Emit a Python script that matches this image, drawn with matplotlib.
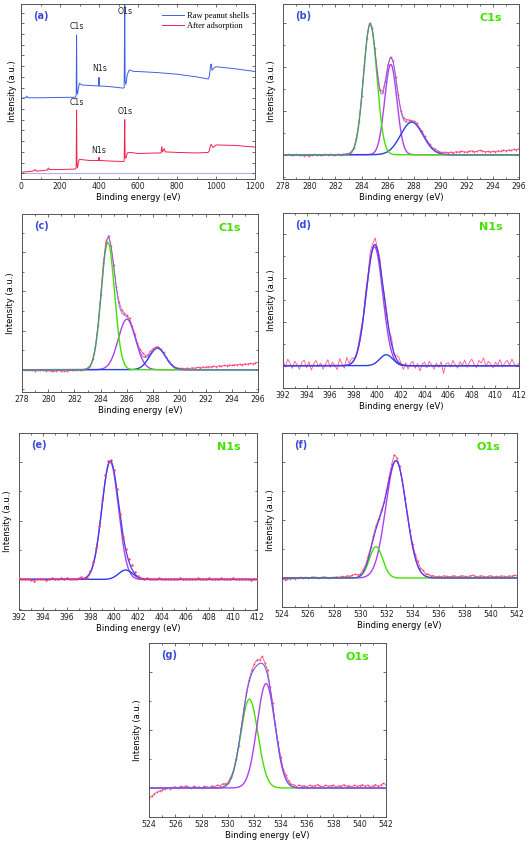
import numpy as np
import matplotlib
matplotlib.use("Agg")
import matplotlib.pyplot as plt
from matplotlib.ticker import MultipleLocator

# ---------------- data ----------------
# (a) survey spectra
survey_blue_x = [0, 25, 30, 35, 100, 200, 280, 283, 285, 287, 290, 295, 300, 310, 350, 398, 400, 402, 450,
                 525, 529, 532, 534, 538, 545, 555, 580, 600, 700, 800, 900, 960, 965, 972, 975, 980, 990,
                 1000, 1100, 1200]
survey_blue_y = [7.0, 7.05, 7.2, 7.05, 7.05, 7.08, 7.1, 7.3, 12.9, 7.6, 7.4, 8.0, 8.4, 8.25, 8.2, 8.15, 8.95,
                 8.15, 8.1, 7.95, 8.0, 15.7, 8.6, 8.3, 9.2, 9.65, 9.5, 9.5, 9.4, 9.25, 9.0, 8.8, 9.0, 10.0,
                 10.2, 9.6, 9.85, 9.95, 9.75, 9.5]
survey_red_x = [0, 60, 73, 78, 135, 140, 145, 200, 280, 283, 285, 287, 290, 295, 300, 350, 398, 400, 402, 450,
                525, 529, 532, 534, 538, 545, 560, 600, 700, 718, 722, 726, 735, 740, 800, 900, 960, 965, 972,
                975, 985, 1000, 1100, 1200]
survey_red_y = [0.1, 0.2, 0.35, 0.2, 0.3, 0.5, 0.35, 0.35, 0.4, 0.6, 5.9, 0.9, 0.5, 1.1, 1.3, 1.2, 1.2, 1.5,
                1.2, 1.15, 1.1, 1.15, 5.0, 1.5, 1.4, 1.9, 1.95, 1.85, 1.9, 1.9, 2.5, 2.0, 2.3, 2.0, 1.95, 1.9,
                1.95, 2.1, 2.6, 2.7, 2.4, 2.65, 2.6, 2.45]
survey_labels = ["C1s", "N1s", "O1s"]
survey_blue_label_pos = [(286, 13.7), (403, 9.8), (535, 15.1)]
survey_red_label_pos = [(286, 6.6), (400, 2.1), (535, 5.8)]
legend_labels = ["Raw peanut shells", "After adsorption"]

# Fitted components: (center eV, height, FWHM eV)
b_green = (284.65, 2.96, 1.2)
b_purple = (286.22, 2.05, 1.1)
b_blue = (287.82, 0.74, 2.0)

c_green = (284.55, 3.25, 1.2)
c_purple = (286.0, 1.29, 1.55)
c_blue = (288.33, 0.55, 1.45)

d_purple = (399.75, 2.72, 1.65)
d_blue = (400.75, 0.25, 1.3)

e_purple = (399.66, 2.0, 1.65)
e_blue = (400.96, 0.16, 1.4)

f_purple = (532.73, 2.02, 1.85)
f_green = (531.2, 0.54, 1.2)

g_green = (531.62, 1.53, 1.55)
g_purple = (532.89, 1.8, 1.6)

# Residuals of raw data relative to the fit
b_resid = [0.01, 0.00, 0.01, -0.01, 0.00, 0.01, 0.00, -0.01, -0.02, -0.01,
           -0.02, 0.00, 0.01, 0.00, -0.01, 0.00, 0.01, 0.00, 0.01, 0.00,
           0.00, 0.01, 0.00, 0.01, 0.02, 0.01, 0.02, 0.00, 0.03, 0.02,
           0.01, 0.03, 0.02, 0.04, 0.03, 0.01, 0.03, 0.02, 0.04, 0.03,
           0.05, 0.02, 0.04, 0.03, 0.05, 0.03, 0.04, 0.06, 0.05, 0.03,
           0.04, 0.05, 0.03, 0.05, 0.04, 0.03, 0.04, 0.03, 0.05, 0.04,
           0.03, 0.04, 0.05, 0.04, 0.06, 0.05, 0.07, 0.06, 0.08, 0.07,
           0.06, 0.08, 0.09, 0.07, 0.08, 0.10, 0.09, 0.07, 0.08, 0.06,
           0.08, 0.07, 0.09, 0.08, 0.10, 0.09, 0.11, 0.10, 0.12, 0.11,
           0.14]
c_resid = [0.00, -0.01, -0.02, -0.01, -0.02, -0.03, -0.02, -0.01, -0.02, -0.03,
           -0.02, -0.03, -0.04, -0.03, -0.02, -0.03, -0.04, -0.03, -0.02, -0.01,
           -0.02, -0.01, 0.00, -0.01, 0.00, 0.01, 0.00, 0.02, 0.03, 0.05,
           0.08, 0.12, 0.10, 0.06, 0.04, 0.06, 0.05, 0.08, 0.07, 0.05,
           0.04, 0.06, 0.03, 0.05, 0.04, 0.06, 0.08, 0.05, 0.04, 0.06,
           0.05, 0.03, 0.04, 0.02, 0.03, 0.02, 0.01, 0.02, 0.01, 0.02,
           0.02, 0.03, 0.02, 0.04, 0.03, 0.05, 0.04, 0.06, 0.05, 0.07,
           0.06, 0.08, 0.07, 0.09, 0.08, 0.10, 0.09, 0.11, 0.10, 0.12,
           0.11, 0.13, 0.12, 0.14, 0.13, 0.15, 0.14, 0.16, 0.15, 0.18,
           0.19]
d_resid = [0.12, -0.03, 0.15, 0.05, -0.06, 0.10, 0.02, -0.08, 0.08, 0.13,
           -0.05, 0.09, -0.10, 0.04, 0.12, -0.02, 0.06, -0.08, 0.03, 0.14,
           -0.04, 0.08, 0.00, -0.09, 0.16, 0.05, -0.06, 0.18, 0.03, 0.10,
           0.06, -0.04, 0.08, 0.12, 0.05, 0.15, 0.08, 0.20, 0.10, 0.15,
           0.05, 0.12, -0.04, 0.08, 0.10, 0.02, 0.14, -0.05, 0.08, 0.12,
           0.02, -0.10, 0.06, -0.08, 0.04, 0.10, -0.06, 0.05, -0.12, 0.03,
           0.08, -0.05, 0.10, 0.02, -0.08, 0.06, -0.04, 0.09, -0.18, 0.04,
           0.07, -0.03, 0.12, 0.02, -0.06, 0.09, 0.01, 0.13, -0.04, 0.08,
           0.15, 0.03, -0.05, 0.12, 0.06, 0.18, -0.02, 0.10, 0.04, -0.05,
           0.08, 0.02, 0.14, -0.03, 0.06, 0.12, 0.01, 0.15, 0.04, -0.02,
           0.06]
e_resid = [0.02, 0.01, 0.00, 0.01, -0.01, -0.02, 0.00, 0.01, 0.00, -0.01,
           0.01, 0.02, 0.00, 0.01, 0.02, 0.01, 0.02, 0.01, 0.00, 0.01,
           0.02, 0.03, 0.01, -0.03, 0.02, 0.04, 0.03, 0.05, 0.06, 0.08,
           0.05, 0.02, 0.04, 0.05, 0.02, -0.02, 0.03, 0.06, 0.08, 0.04,
           0.02, 0.01, 0.00, 0.02, 0.01, 0.00, 0.01, 0.02, 0.01, 0.00,
           0.01, 0.00, 0.01, 0.00, 0.02, 0.00, 0.01, 0.00, 0.01, 0.00,
           0.02, 0.01, 0.00, 0.01, 0.02, 0.00, 0.01, 0.00, 0.02, 0.01,
           0.00, 0.01, 0.02, 0.00, 0.01, 0.00, 0.01, 0.00, -0.01, 0.00,
           0.01]
f_resid = [-0.02, -0.03, -0.02, -0.01, 0.00, -0.01, 0.00, 0.01, 0.00, 0.01,
           0.00, 0.01, 0.02, 0.01, 0.00, 0.01, 0.02, 0.01, 0.00, 0.01,
           0.01, 0.02, 0.01, 0.03, 0.02, 0.04, 0.03, 0.05, 0.06, 0.04,
           0.03, 0.05, 0.04, 0.06, 0.04, 0.05, 0.06, 0.04, 0.05, 0.03,
           0.04, 0.06, 0.08, 0.12, 0.06, 0.02, 0.00, -0.02, 0.00, 0.02,
           0.04, 0.06, 0.08, 0.05, 0.07, 0.04, 0.05, 0.03, 0.04, 0.02,
           0.03, 0.02, 0.04, 0.03, 0.02, 0.03, 0.04, 0.02, 0.03, 0.04,
           0.03, 0.02, 0.04, 0.05, 0.03, 0.02, 0.04, 0.03, 0.02, 0.03,
           0.04, 0.02, 0.03, 0.02, 0.04, 0.03, 0.02, 0.04, 0.03, 0.05,
           0.04]
g_resid = [-0.18, -0.14, -0.10, -0.07, -0.05, -0.03, -0.02, 0.00, -0.01, 0.01,
           0.02, 0.00, 0.03, 0.01, 0.04, 0.02, 0.00, 0.03, 0.01, 0.02,
           0.00, 0.03, 0.02, 0.01, 0.04, 0.02, 0.05, 0.03, 0.06, 0.04,
           0.02, 0.04, 0.01, 0.03, 0.00, 0.02, 0.03, 0.05, 0.04, 0.06,
           0.08, 0.10, 0.06, 0.12, 0.07, 0.09, 0.04, 0.06, 0.02, 0.05,
           0.06, 0.04, 0.07, 0.05, 0.03, 0.04, 0.02, 0.05, 0.03, 0.04,
           0.02, 0.05, 0.03, 0.04, 0.06, 0.03, 0.02, 0.05, 0.03, 0.04,
           0.05, 0.02, 0.04, 0.03, 0.06, 0.03, 0.04, 0.02, 0.05, 0.03,
           0.04, 0.06, 0.03, 0.05, 0.02, 0.04, 0.06, 0.03, 0.05, 0.08,
           0.06]

# ---------------- style ----------------
W, H = 529, 844
fig = plt.figure(figsize=(W / 100, H / 100), dpi=100)
plt.rcParams['font.family'] = ['DejaVu Sans']

C_RED = '#ff3a6a'
C_BLUE = '#2a3ee6'
C_GREEN = '#44e000'
C_PURPLE = '#b040f0'
C_SUM = '#6a5cf0'
C_LABEL = '#3a4ad8'
C_SPINE = '#555555'
FS = 5.6


def gauss(x, p):
    c, h, w = p
    return h * np.exp(-4 * np.log(2) * (x - c) ** 2 / w ** 2)


def make_ax(left, top, right, bottom):
    return fig.add_axes([left / W, 1 - bottom / H, (right - left) / W, (bottom - top) / H])


def style(ax, xlim, ylim, xmaj, xmin, ymaj, ymin, label, peak=None):
    ax.set_xlim(*xlim)
    ax.set_ylim(*ylim)
    ax.xaxis.set_major_locator(MultipleLocator(xmaj))
    ax.xaxis.set_minor_locator(MultipleLocator(xmin))
    ax.yaxis.set_major_locator(MultipleLocator(ymaj))
    ax.yaxis.set_minor_locator(MultipleLocator(ymin))
    ax.tick_params(which='both', direction='in', top=True, right=True, colors=C_SPINE,
                   labelcolor='#222222', labelsize=FS, width=0.6, pad=2)
    ax.tick_params(which='major', length=2.5)
    ax.tick_params(which='minor', length=1.5)
    ax.tick_params(axis='y', labelleft=False)
    for s in ax.spines.values():
        s.set_color(C_SPINE)
        s.set_linewidth(0.7)
    ax.set_xlabel('Binding energy (eV)', fontsize=FS + 0.4, labelpad=1.5)
    ax.set_ylabel('Intensity (a.u.)', fontsize=FS + 0.4, labelpad=3)
    ax.text(0.05, 0.93, label, transform=ax.transAxes, color=C_LABEL, fontsize=7,
            fontweight='bold', va='center', ha='left')
    if peak:
        ax.text(0.93, 0.92, peak, transform=ax.transAxes, color=C_GREEN, fontsize=8,
                fontweight='bold', va='center', ha='right')


def raw_plot(ax, x, y):
    ax.plot(x, y, color=C_RED, lw=0.6, marker='o', ms=1.3, mew=0, alpha=0.9, zorder=2)


# ---------------- (a) ----------------
ax = make_ax(21, 4, 255, 179)
ax.plot([0, 1200], [0.03, 0.03], color='#b8a8ec', lw=0.8, zorder=1)
ax.plot(survey_blue_x, survey_blue_y, color='#4060e8', lw=0.7, label=legend_labels[0])
ax.plot(survey_red_x, survey_red_y, color='#f02050', lw=0.7, label=legend_labels[1])
for name, (x, y) in zip(survey_labels, survey_blue_label_pos):
    ax.text(x, y, name, fontsize=FS, ha='center', va='center', color='#222222')
for name, (x, y) in zip(survey_labels, survey_red_label_pos):
    ax.text(x, y, name, fontsize=FS, ha='center', va='center', color='#222222')
style(ax, (0, 1200), (-0.53, 15.8), 200, 100, 1, 1, '(a)')
ax.tick_params(axis='y', which='major', length=2)
leg = ax.legend(loc='upper right', bbox_to_anchor=(1.0, 0.99), frameon=False, handlelength=2.6,
                handletextpad=0.4, labelspacing=0.3, borderaxespad=0.3,
                prop={'family': 'Liberation Serif', 'size': 6})

# ---------------- (b) ----------------
ax = make_ax(283, 4, 519, 179)
xr = np.round(np.arange(278, 296.001, 0.2), 2)
xf = np.linspace(278, 296, 900)
raw = gauss(xr, b_green) + gauss(xr, b_purple) + gauss(xr, b_blue) + np.array(b_resid)
raw_plot(ax, xr, raw)
ax.plot(xf, gauss(xf, b_purple), color=C_PURPLE, lw=1.0)
ax.plot(xf, gauss(xf, b_blue), color=C_BLUE, lw=1.0)
ax.plot(xf, gauss(xf, b_green), color=C_GREEN, lw=1.0)
ax.plot(xf, gauss(xf, b_green) + gauss(xf, b_purple) + gauss(xf, b_blue), color=C_SUM, lw=0.7, alpha=0.8)
style(ax, (278, 296), (-0.55, 3.42), 2, 1, 1, 0.5, '(b)', 'C1s')

# ---------------- (c) ----------------
ax = make_ax(22, 214, 258, 392)
raw = gauss(xr, c_green) + gauss(xr, c_purple) + gauss(xr, c_blue) + np.array(c_resid)
raw_plot(ax, xr, raw)
ax.plot(xf, gauss(xf, c_purple), color=C_PURPLE, lw=1.0)
ax.plot(xf, gauss(xf, c_blue), color=C_BLUE, lw=1.0)
ax.plot(xf, gauss(xf, c_green), color=C_GREEN, lw=1.0)
ax.plot(xf, gauss(xf, c_green) + gauss(xf, c_purple) + gauss(xf, c_blue), color=C_SUM, lw=0.7, alpha=0.8)
style(ax, (278, 296), (-0.57, 3.98), 2, 1, 1, 0.5, '(c)', 'C1s')

# ---------------- (d) ----------------
ax = make_ax(283, 213, 519, 388)
xr = np.round(np.arange(392, 412.001, 0.2), 2)
xf = np.linspace(392, 412, 1000)
raw = gauss(xr, d_purple) + gauss(xr, d_blue) + np.array(d_resid)
ax.plot(xr, raw, color=C_RED, lw=0.6, alpha=0.85, zorder=2)
ax.plot(xf, gauss(xf, d_purple), color=C_PURPLE, lw=1.0)
ax.plot(xf, gauss(xf, d_blue), color=C_BLUE, lw=1.0)
ax.plot(xf, gauss(xf, d_purple) + gauss(xf, d_blue), color='#4040e8', lw=0.9)
style(ax, (392, 412), (-0.51, 3.49), 2, 1, 1, 0.5, '(d)', 'N1s')

# ---------------- (e) ----------------
ax = make_ax(19, 433, 257, 610)
xr = np.round(np.arange(392, 412.001, 0.25), 2)
raw = gauss(xr, e_purple) + gauss(xr, e_blue) + np.array(e_resid)
ax.plot(xf, gauss(xf, e_purple), color=C_PURPLE, lw=1.0)
ax.plot(xf, gauss(xf, e_blue), color=C_BLUE, lw=1.0)
ax.plot(xf, gauss(xf, e_purple) + gauss(xf, e_blue), color='#4040e8', lw=0.9)
ax.plot(xr, raw, color=C_RED, lw=0, marker='o', ms=1.8, mew=0, zorder=3)
style(ax, (392, 412), (-0.52, 2.49), 2, 1, 1, 0.5, '(e)', 'N1s')

# ---------------- (f) ----------------
ax = make_ax(282, 433, 517, 607)
xr = np.round(np.arange(524, 542.001, 0.2), 2)
xf = np.linspace(524, 542, 900)
raw = gauss(xr, f_purple) + gauss(xr, f_green) + np.array(f_resid)
raw_plot(ax, xr, raw)
ax.plot(xf, gauss(xf, f_purple), color=C_PURPLE, lw=1.0)
ax.plot(xf, gauss(xf, f_green), color=C_GREEN, lw=1.0)
ax.plot(xf, gauss(xf, f_purple) + gauss(xf, f_green), color='#4a40ec', lw=0.8)
style(ax, (524, 542), (-0.5, 2.5), 2, 1, 1, 0.5, '(f)', 'O1s')

# ---------------- (g) ----------------
ax = make_ax(149, 643, 386, 817)
raw = gauss(xr, g_green) + gauss(xr, g_purple) + np.array(g_resid)
raw_plot(ax, xr, raw)
ax.plot(xf, gauss(xf, g_green), color=C_GREEN, lw=1.0)
ax.plot(xf, gauss(xf, g_purple), color=C_PURPLE, lw=1.0)
ax.plot(xf, gauss(xf, g_green) + gauss(xf, g_purple), color=C_SUM, lw=0.8)
style(ax, (524, 542), (-0.5, 2.5), 2, 1, 1, 0.5, '(g)', 'O1s')

fig.savefig('out.png', dpi=100)
